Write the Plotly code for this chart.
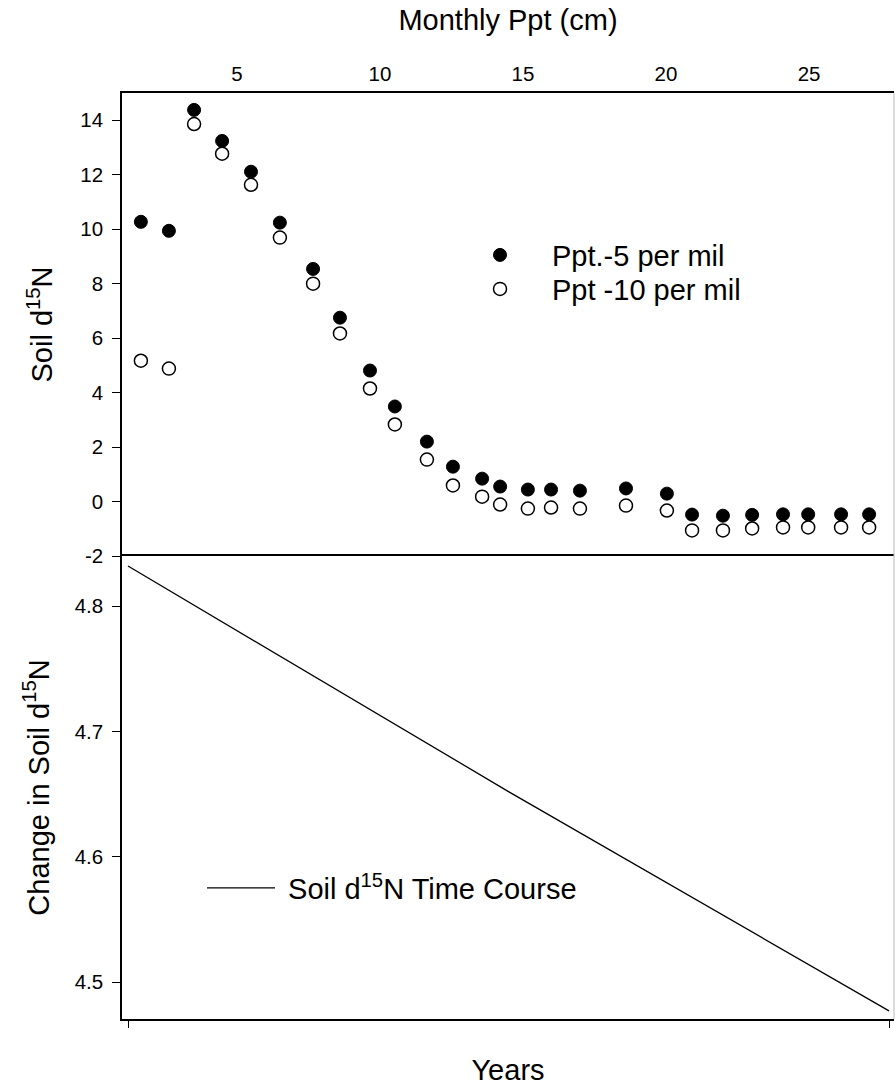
import plotly.graph_objects as go

# Top panel: Monthly Ppt (cm) vs Soil d15N
ppt_cm = [1.64, 2.62, 3.50, 4.48, 5.49, 6.50, 7.66, 8.60, 9.65, 10.52, 11.64, 12.55, 13.57,
          14.20, 15.17, 15.98, 16.99, 18.60, 20.03, 20.91, 21.99, 23.01, 24.09, 24.97, 26.12, 27.10]
ppt_minus5 = [10.27, 9.94, 14.38, 13.24, 12.11, 10.24, 8.54, 6.75, 4.81, 3.49, 2.20, 1.28, 0.84,
              0.55, 0.44, 0.44, 0.40, 0.48, 0.29, -0.48, -0.52, -0.49, -0.47, -0.47, -0.47, -0.47]
ppt_minus10 = [5.17, 4.88, 13.86, 12.77, 11.63, 9.69, 8.00, 6.17, 4.15, 2.83, 1.54, 0.59, 0.18,
               -0.11, -0.26, -0.22, -0.26, -0.15, -0.33, -1.06, -1.06, -0.99, -0.95, -0.95, -0.95, -0.95]

# Bottom panel: time course
years = [0, 500, 1000]
change_d15n = [4.832, 4.652, 4.477]

top_xticks = [5, 10, 15, 20, 25]
top_yticks = [-2, 0, 2, 4, 6, 8, 10, 12, 14]
top_yticklabels = ["-2", "0", "2", "4", "6", "8", "10", "12", "14"]
bot_yticks = [4.5, 4.6, 4.7, 4.8]
bot_yticklabels = ["4.5", "4.6", "4.7", "4.8"]
bot_xticks = [0, 1000]

FONT = "Liberation Sans, Arial, sans-serif"

fig = go.Figure()
fig.add_trace(go.Scatter(
    x=ppt_cm, y=ppt_minus5, mode="markers", name="Ppt.-5 per mil", showlegend=True,
    marker=dict(symbol="circle", size=13, color="black", line=dict(color="black", width=1)),
    xaxis="x", yaxis="y", legend="legend"))
fig.add_trace(go.Scatter(
    x=ppt_cm, y=ppt_minus10, mode="markers", name="Ppt -10 per mil", showlegend=True,
    marker=dict(symbol="circle", size=13, color="white", line=dict(color="black", width=1.5)),
    xaxis="x", yaxis="y", legend="legend2"))
fig.add_trace(go.Scatter(
    x=years, y=change_d15n, mode="lines", name="\u00a0Soil d<sup>15</sup>N Time Course",
    showlegend=True, line=dict(color="black", width=1.3),
    xaxis="x2", yaxis="y2", legend="legend3"))

axis_common = dict(showgrid=False, zeroline=False, showline=True, linecolor="black",
                   linewidth=1.5, tickfont=dict(size=20.5, color="black", family=FONT),
                   tickcolor="black", tickwidth=1.3)

fig.update_layout(
    width=895, height=1086,
    margin=dict(l=122, r=1, t=93, b=67),
    paper_bgcolor="white", plot_bgcolor="white",
    font=dict(family=FONT, color="black"),
    showlegend=True,
    xaxis=dict(**axis_common, anchor="y", side="top", range=[0.98, 27.97],
               tickvals=top_xticks, ticks="", ticklabelstandoff=2,
               title=dict(text="Monthly Ppt (cm)", font=dict(size=29), standoff=23)),
    yaxis=dict(**axis_common, domain=[0.5, 1], anchor="x", range=[-2, 15],
               tickvals=top_yticks, ticktext=top_yticklabels, ticks="outside", ticklen=8,
               ticklabelstandoff=5,
               title=dict(text="Soil d<sup>15</sup>N", font=dict(size=29), standoff=19)),
    xaxis2=dict(**axis_common, anchor="y2", range=[-7.88, 1006.57], mirror=True,
                tickvals=bot_xticks, ticks="outside", ticklen=7, showticklabels=False,
                title=dict(text="Years", font=dict(size=29), standoff=40)),
    yaxis2=dict(**axis_common, domain=[0, 0.5], anchor="x2", range=[4.4705, 4.84],
                tickvals=bot_yticks, ticktext=bot_yticklabels, ticks="outside", ticklen=8,
                ticklabelstandoff=5,
                title=dict(text="Change in Soil d<sup>15</sup>N", font=dict(size=29), standoff=17)),
    legend=dict(x=0.4223, y=0.825, xanchor="left", yanchor="middle", itemwidth=94,
                font=dict(size=29, family=FONT), bgcolor="rgba(0,0,0,0)", visible=True),
    legend2=dict(x=0.4223, y=0.7883, xanchor="left", yanchor="middle", itemwidth=94,
                 font=dict(size=29, family=FONT), bgcolor="rgba(0,0,0,0)", visible=True),
    legend3=dict(x=0.1036, y=0.1415, xanchor="left", yanchor="middle", itemwidth=68,
                 font=dict(size=29, family=FONT), bgcolor="rgba(0,0,0,0)", visible=True),
    shapes=[dict(type="line", xref="paper", yref="paper", x0=1, x1=1, y0=0, y1=1,
                 line=dict(color="#bbbbbb", width=1))],
)

fig.write_html("out.html")
